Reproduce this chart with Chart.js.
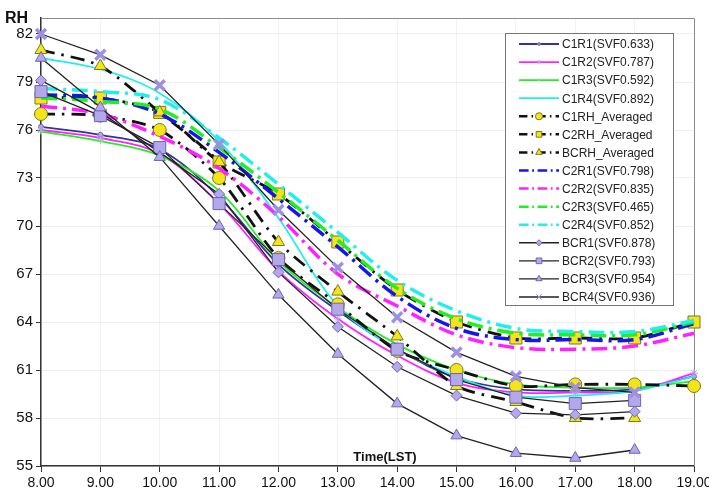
<!DOCTYPE html>
<html lang="en">
<head>
<meta charset="UTF-8" />
<title>RH by time</title>
<script src="https://cdn.jsdelivr.net/npm/chart.js"></script>
<style>
  html, body { margin: 0; padding: 0; background: #fff; }
  #wrap { width: 709px; height: 495px; }
</style>
</head>
<body>
<div id="wrap"><canvas id="rhChart" width="709" height="495"></canvas></div>
<script>
// hours on the x axis
const timeLabels = ['8.00', '9.00', '10.00', '11.00', '12.00', '13.00', '14.00', '15.00', '16.00', '17.00', '18.00', '19.00'];
const yTicks = [55, 58, 61, 64, 67, 70, 73, 76, 79, 82];

// canyon 1
const c1r1 = [76.2, 75.7, 74.8, 71.8, 67.6, 64.7, 62.3, 60.5, 59.8, 59.7, 59.8, 60.6];
const c1r2 = [76.0, 75.5, 74.5, 71.4, 67.2, 64.2, 61.9, 60.2, 59.6, 59.6, 59.7, 60.8];
const c1r3 = [75.9, 75.3, 74.4, 72.2, 67.8, 64.9, 62.6, 61.0, 60.1, 59.9, 59.9, 60.3];
const c1r4 = [80.5, 79.8, 78.3, 75.3, 70.5, 65.0, 62.3, 60.6, 59.4, 59.4, 59.7, 60.6];
// averages
const c1rhAvg = [77.0, 76.9, 76.0, 73.0, 68.0, 65.1, 62.2, 61.0, 60.0, 60.1, 60.1, 60.0];
const c2rhAvg = [78.0, 78.0, 77.1, 74.0, 72.0, 69.0, 66.0, 64.0, 63.0, 63.0, 63.0, 64.0];
const bcrhAvg = [81.0, 80.0, 77.1, 74.0, 69.0, 65.9, 63.1, 60.0, 59.0, 58.0, 58.0];
// canyon 2
const c2r1 = [78.2, 78.0, 77.0, 74.6, 71.7, 68.7, 65.6, 63.6, 62.9, 62.9, 62.9, 63.9];
const c2r2 = [77.5, 77.0, 75.6, 73.6, 70.6, 67.0, 65.0, 63.2, 62.4, 62.3, 62.5, 63.3];
const c2r3 = [78.0, 77.8, 77.3, 74.9, 72.1, 69.1, 66.1, 64.2, 63.3, 63.2, 63.2, 64.0];
const c2r4 = [78.6, 78.4, 77.9, 75.5, 72.6, 69.6, 66.6, 64.7, 63.6, 63.4, 63.4, 64.1];
// BC sites (no 19.00 reading)
const bcr1 = [79.1, 77.1, 74.6, 72.0, 67.1, 63.7, 61.2, 59.4, 58.3, 58.2, 58.4];
const bcr2 = [78.4, 76.9, 74.9, 71.4, 67.9, 64.8, 62.3, 60.4, 59.3, 58.9, 59.1];
const bcr3 = [80.5, 77.4, 74.3, 70.0, 65.7, 62.0, 58.9, 56.9, 55.8, 55.5, 56.0];
const bcr4 = [82.0, 80.7, 78.8, 75.1, 71.0, 67.4, 64.3, 62.1, 60.6, 59.9, 59.6];

const lav = '#b3a8ea';
const lavEdge = '#6f63b5';
const yel = '#f4e41c';
const yelEdge = '#7c7a1a';
const avgDash = [14, 7, 2.5, 7];
const c2Dash = [16, 6, 3, 6];

function solid(label, data, color, style, radius, bg, edge) {
  return {
    label, data, borderColor: color, backgroundColor: color, borderWidth: 1.8,
    tension: 0.35, pointStyle: style || 'circle', pointRadius: radius || 0,
    pointBackgroundColor: bg || lav, pointBorderColor: edge || lavEdge, pointBorderWidth: 1
  };
}
function avg(label, data, style, radius) {
  return {
    label, data, borderColor: '#111', backgroundColor: '#111', borderWidth: 2.8,
    borderDash: avgDash, tension: 0.25, pointStyle: style, pointRadius: radius,
    pointBackgroundColor: yel, pointBorderColor: yelEdge, pointBorderWidth: 1
  };
}
function dashed(label, data, color) {
  return {
    label, data, borderColor: color, backgroundColor: color, borderWidth: 3.5,
    borderDash: c2Dash, tension: 0.35, pointRadius: 0
  };
}
function bc(label, data, style, radius) {
  return {
    label, data, borderColor: '#222', backgroundColor: '#222', borderWidth: 1.3,
    tension: 0, pointStyle: style, pointRadius: radius,
    pointBackgroundColor: lav, pointBorderColor: lavEdge, pointBorderWidth: 1
  };
}

const datasets = [
  solid('C1R1(SVF0.633)', c1r1, '#33339a', 'circle', 2.5),
  solid('C1R2(SVF0.787)', c1r2, '#ff22ff', 'star', 4, lav, '#b69ae8'),
  solid('C1R3(SVF0.592)', c1r3, '#22ee22', 'cross', 3, lav, '#8fd88f'),
  solid('C1R4(SVF0.892)', c1r4, '#22eeee', 'circle', 0),
  avg('C1RH_Averaged', c1rhAvg, 'circle', 6.5),
  avg('C2RH_Averaged', c2rhAvg, 'rect', 8.5),
  avg('BCRH_Averaged', bcrhAvg, 'triangle', 7),
  dashed('C2R1(SVF0.798)', c2r1, '#1515ee'),
  dashed('C2R2(SVF0.835)', c2r2, '#ff22ff'),
  dashed('C2R3(SVF0.465)', c2r3, '#22ee22'),
  dashed('C2R4(SVF0.852)', c2r4, '#22eeee'),
  bc('BCR1(SVF0.878)', bcr1, 'rectRot', 5.5),
  bc('BCR2(SVF0.793)', bcr2, 'rect', 8.5),
  bc('BCR3(SVF0.954)', bcr3, 'triangle', 6.5),
  bc('BCR4(SVF0.936)', bcr4, 'crossRot', 7)
];
// later series are painted over earlier ones, like the original
datasets.forEach((d, i) => { d.order = -i; });
datasets[14].pointBorderColor = '#9d90e0';
datasets[14].pointBorderWidth = 3.5;

const decorations = {
  id: 'decorations',
  beforeDatasetsDraw(chart) {
    const { ctx, chartArea: a } = chart;
    ctx.save();
    ctx.strokeStyle = '#8c8c8c';
    ctx.lineWidth = 1;
    ctx.beginPath();
    ctx.moveTo(a.left, a.top + 0.5);
    ctx.lineTo(a.right + 0.5, a.top + 0.5);
    ctx.lineTo(a.right + 0.5, a.bottom);
    ctx.stroke();
    ctx.fillStyle = '#111';
    ctx.font = 'bold 13px "Liberation Sans", Arial, sans-serif';
    ctx.textAlign = 'center';
    ctx.textBaseline = 'alphabetic';
    ctx.fillText('Time(LST)', 385, 461);
    ctx.restore();
  },
  afterDraw(chart) {
    const { ctx } = chart;
    ctx.save();
    ctx.fillStyle = '#111';
    ctx.font = 'bold 16px "Liberation Sans", Arial, sans-serif';
    ctx.textAlign = 'left';
    ctx.textBaseline = 'alphabetic';
    ctx.fillText('RH', 5, 23);

    // legend box
    const bx = 505, by = 33, bw = 168, bh = 272;
    ctx.fillStyle = '#fff';
    ctx.fillRect(bx, by, bw, bh);
    ctx.strokeStyle = '#777';
    ctx.lineWidth = 1;
    ctx.strokeRect(bx + 0.5, by + 0.5, bw, bh);
    chart.data.datasets.forEach((d, i) => {
      const y = 44 + i * 18.07;
      ctx.save();
      ctx.strokeStyle = d.borderColor;
      ctx.lineWidth = Math.min(d.borderWidth, 2.5);
      ctx.setLineDash(d.borderDash ? d.borderDash.map(v => v * 0.6) : []);
      ctx.beginPath();
      ctx.moveTo(519, y);
      ctx.lineTo(559, y);
      ctx.stroke();
      ctx.restore();
      if (d.pointRadius > 0) {
        ctx.save();
        ctx.fillStyle = d.pointBackgroundColor;
        ctx.strokeStyle = d.pointBorderColor;
        ctx.lineWidth = 1;
        Chart.helpers.drawPoint(ctx, {
          pointStyle: d.pointStyle,
          radius: Math.min(d.pointRadius * 0.55, 4),
          rotation: 0,
          borderWidth: 1
        }, 539, y);
        ctx.restore();
      }
      ctx.fillStyle = '#222';
      ctx.font = '12px "Liberation Sans", Arial, sans-serif';
      ctx.textBaseline = 'middle';
      ctx.fillText(d.label, 562, y + 1);
    });
    ctx.restore();
  }
};

new Chart(document.getElementById('rhChart'), {
  type: 'line',
  data: { labels: timeLabels, datasets: datasets },
  options: {
    responsive: false,
    animation: false,
    devicePixelRatio: 1,
    layout: { padding: { top: 18, right: 15, left: 0, bottom: 0 } },
    plugins: { legend: { display: false }, tooltip: { enabled: false } },
    scales: {
      x: {
        offset: false,
        grid: { color: 'rgba(200,200,225,0.25)', tickColor: '#333', tickLength: 6 },
        border: { color: '#333', width: 1.5 },
        ticks: {
          color: '#111', maxRotation: 0, autoSkip: false, padding: 3,
          font: { family: '"Liberation Sans", Arial, sans-serif', size: 14 }
        },
        afterFit(s) { s.height = 29; s.paddingRight = 0; s.paddingLeft = 0; }
      },
      y: {
        min: 55,
        max: 83,
        afterBuildTicks(s) { s.ticks = yTicks.map(v => ({ value: v })); },
        grid: { color: 'rgba(200,200,225,0.3)', tickColor: '#333', tickLength: 5 },
        border: { color: '#333', width: 1.5 },
        ticks: {
          color: '#111', padding: 3,
          font: { family: '"Liberation Sans", Arial, sans-serif', size: 15 }
        },
        afterFit(s) { s.width = 41; }
      }
    }
  },
  plugins: [decorations]
});
</script>
</body>
</html>
